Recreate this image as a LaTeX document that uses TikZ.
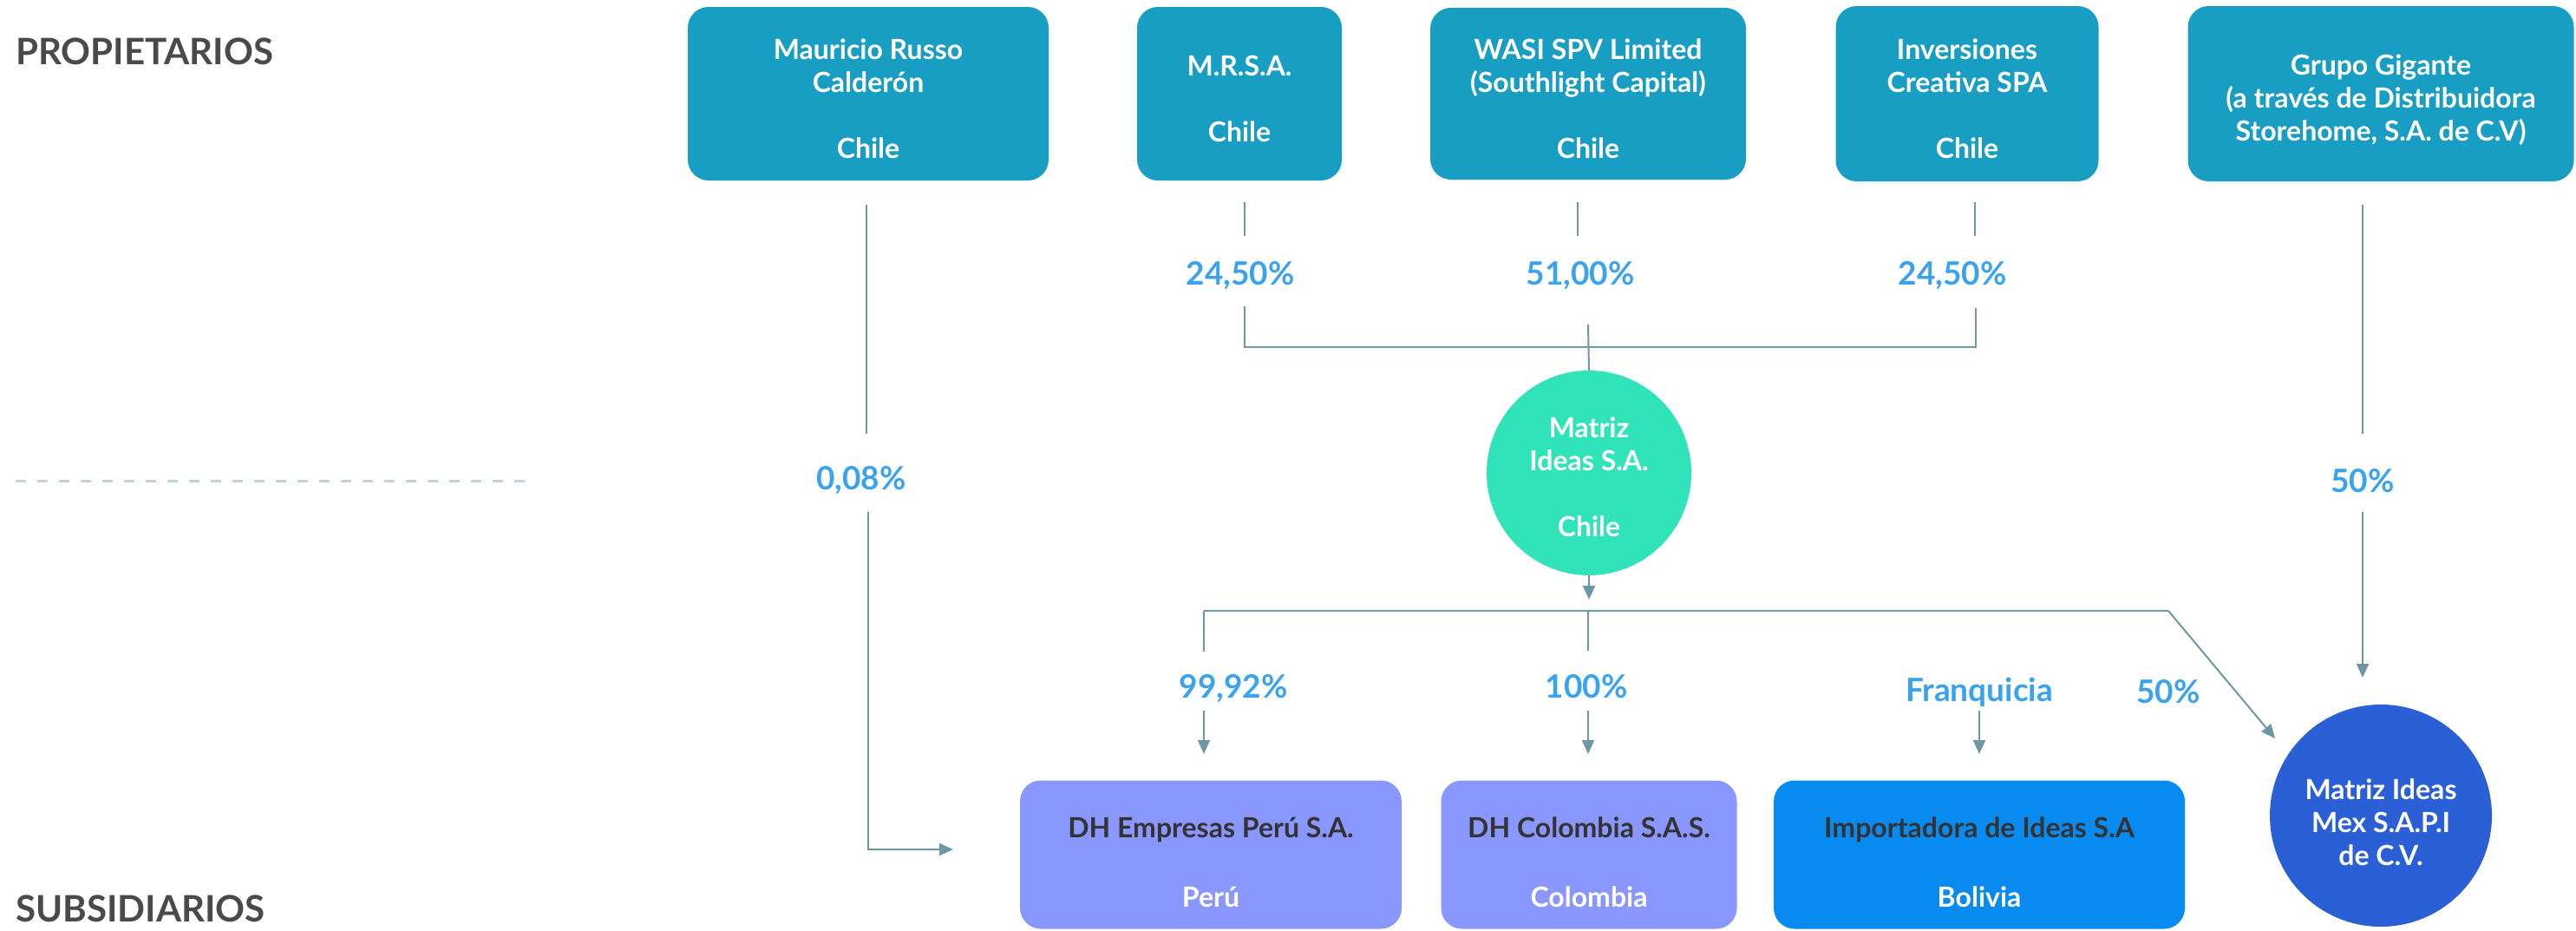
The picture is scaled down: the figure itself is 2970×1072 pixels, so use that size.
\documentclass[tikz,border=0pt]{standalone}
\usepackage{fontspec}
\setmainfont{Lato}
\usetikzlibrary{arrows.meta}
\definecolor{ownerc}{HTML}{189DC3}
\definecolor{mintc}{HTML}{30E3B9}
\definecolor{periwc}{HTML}{8A97FF}
\definecolor{bolc}{HTML}{078BF0}
\definecolor{mexc}{HTML}{2A5FD6}
\definecolor{pctc}{HTML}{3BA3EE}
\definecolor{linec}{HTML}{6E97A6}
\definecolor{headc}{HTML}{4A4A4A}
\definecolor{dashc}{HTML}{BFD3DC}
\definecolor{darkt}{HTML}{333333}
\begin{document}
\begin{tikzpicture}[x=1pt,y=-1pt,
  boxfont/.style={font=\fontsize{32}{38}\selectfont\bfseries},
  ownerbox/.style={rectangle,rounded corners=24pt,fill=ownerc,inner sep=0pt},
  subbox/.style={rectangle,rounded corners=24pt,inner sep=0pt},
  roundco/.style={circle,inner sep=0pt},
  boxtext/.style={boxfont,align=center,inner sep=0pt,text=white},
  pct/.style={font=\fontsize{37}{42}\selectfont\bfseries,text=pctc,inner sep=0pt},
  header/.style={font=\fontsize{42}{48}\selectfont\bfseries,text=headc,inner sep=0pt,anchor=west},
  conn/.style={draw=linec,line width=2pt},
  arr/.style={conn,-{Triangle[width=14pt,length=16pt]}}
]
\useasboundingbox (0,0) rectangle (2970,1072);

% headers
\node[header] (hprop) at (18,59) {PROPIETARIOS};
\node[header] (hsub) at (18,1047) {SUBSIDIARIOS};
\coordinate (dashA) at (18,554);
\coordinate (dashB) at (611,554);
\draw[dashc,line width=3pt,dash pattern=on 12pt off 13pt] (dashA) -- (dashB);

% owners
\node[ownerbox,minimum width=416pt,minimum height=200pt] (mau) at (1001,108) {};
\node[boxtext] (maut) at ([yshift=-6pt]mau.center) {Mauricio Russo\\Calderón\\[38pt]Chile};
\node[ownerbox,minimum width=236pt,minimum height=200pt] (mrsa) at (1429,108) {};
\node[boxtext] (mrsat) at ([yshift=-6pt]mrsa.center) {M.R.S.A.\\[38pt]Chile};
\node[ownerbox,minimum width=364pt,minimum height=198pt] (wasi) at (1831,108) {};
\node[boxtext] (wasit) at ([yshift=-6pt]wasi.center) {WASI SPV Limited\\(Southlight Capital)\\[38pt]Chile};
\node[ownerbox,minimum width=303pt,minimum height=202pt] (inv) at (2268,108) {};
\node[boxtext] (invt) at ([yshift=-6pt]inv.center) {Inversiones\\Creativa SPA\\[38pt]Chile};
\node[ownerbox,minimum width=445pt,minimum height=202pt] (grupo) at (2745,108) {};
\node[boxtext] (grupot) at ([yshift=-7pt]grupo.center) {Grupo Gigante\\(a través de Distribuidora\\Storehome, S.A. de C.V)};

% percentage labels
\node[pct] (p008) at (993,554) {0,08\%};
\node[pct] (p2450a) at (1430,318) {24,50\%};
\node[pct] (p5100) at (1822,318) {51,00\%};
\node[pct] (p2450b) at (2251,318) {24,50\%};
\node[pct] (p50a) at (2724,554) {50\%};
\node[pct] (p9992) at (1422,794) {99,92\%};
\node[pct] (p100) at (1829,791) {100\%};
\node[pct] (pfran) at (2282,798) {Franquicia};
\node[pct] (p50b) at (2500,797) {50\%};

% central company
\node[roundco,fill=mintc,minimum size=236pt] (matriz) at (1832,545) {};
\node[boxtext] (matrizt) at ([yshift=-5pt]matriz.center) {Matriz\\Ideas S.A.\\[38pt]Chile};

% subsidiaries
\node[subbox,fill=periwc,minimum width=440pt,minimum height=171pt] (peru) at (1396,985) {};
\node[boxtext] (perut) at ([yshift=-9pt]peru.center) {\textcolor{darkt}{DH Empresas Perú S.A.}\\[42pt]Perú};
\node[subbox,fill=periwc,minimum width=341pt,minimum height=171pt] (col) at (1832,985) {};
\node[boxtext] (colt) at ([yshift=-9pt]col.center) {\textcolor{darkt}{DH Colombia S.A.S.}\\[42pt]Colombia};
\node[subbox,fill=bolc,minimum width=474pt,minimum height=171pt] (imp) at (2282,985) {};
\node[boxtext] (impt) at ([yshift=-9pt]imp.center) {\textcolor{darkt}{Importadora de Ideas S.A}\\[42pt]Bolivia};
\node[roundco,fill=mexc,minimum size=256pt] (mex) at (2745,940) {};
\node[boxtext] (mext) at ([yshift=-8pt]mex.center) {Matriz Ideas\\Mex S.A.P.I\\de C.V.};

% Mauricio -> Peru
\coordinate (m1) at (999,236);
\coordinate (m2) at (999,500);
\coordinate (m3) at (1001,590);
\coordinate (m4) at (1001,979);
\coordinate (m5) at (1099,979);
\draw[conn] (m1) -- (m2);
\draw[arr] (m3) -- (m4) -- (m5);

% owners -> matriz
\coordinate (r1) at (1435,233);
\coordinate (r2) at (1435,272);
\coordinate (r3) at (1435,353);
\coordinate (r4) at (1435,400);
\coordinate (w1) at (1819,233);
\coordinate (w2) at (1819,272);
\coordinate (i1) at (2277,233);
\coordinate (i2) at (2277,272);
\coordinate (i3) at (2278,355);
\coordinate (i4) at (2278,400);
\coordinate (c1) at (1831,374);
\draw[conn] (r1) -- (r2);
\draw[conn] (w1) -- (w2);
\draw[conn] (i1) -- (i2);
\draw[conn] (r3) -- (r4) -- (i4) -- (i3);
\draw[conn] (c1) -- (matriz.north);

% Grupo -> Mex
\coordinate (g1) at (2724,236);
\coordinate (g2) at (2724,500);
\coordinate (g3) at (2724,590);
\coordinate (g4) at (2724,781);
\draw[conn] (g1) -- (g2);
\draw[arr] (g3) -- (g4);

% matriz -> subsidiaries
\coordinate (d1) at (1832,691);
\draw[arr] (matriz.south) -- (d1);
\coordinate (hL) at (1388,704);
\coordinate (hC) at (1831,704);
\coordinate (hR) at (2500,704);
\coordinate (mexend) at (2623,851);
\draw[conn] (hL) -- (hR);
\draw[arr] (hR) -- (mexend);
\coordinate (pL1) at (1388,751);
\coordinate (pL2) at (1388,819);
\coordinate (pL3) at (1388,869);
\draw[conn] (hL) -- (pL1);
\draw[arr] (pL2) -- (pL3);
\coordinate (pC1) at (1831,750);
\coordinate (pC2) at (1831,819);
\coordinate (pC3) at (1831,869);
\draw[conn] (hC) -- (pC1);
\draw[arr] (pC2) -- (pC3);
\coordinate (pF2) at (2282,819);
\coordinate (pF3) at (2282,869);
\draw[arr] (pF2) -- (pF3);
\end{tikzpicture}
\end{document}
